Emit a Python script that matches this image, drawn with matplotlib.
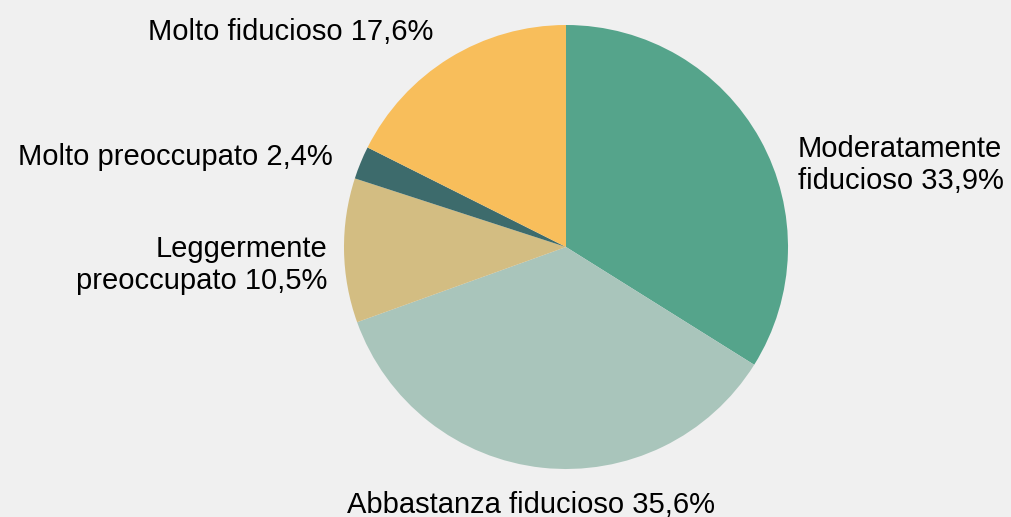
import matplotlib.pyplot as plt

labels = ['Moderatamente\nfiducioso 33,9%', 'Abbastanza fiducioso 35,6%',
          'Leggermente\npreoccupato 10,5%', 'Molto preoccupato 2,4%',
          'Molto fiducioso 17,6%']
values = [33.9, 35.6, 10.5, 2.4, 17.6]
colors = ['#55a48b', '#a9c5bb', '#d3bd82', '#3d6b6c', '#f8be5b']

# label anchor positions in figure pixels (x, y from top) and alignment
label_pos = [(798, 165, 'left'), (531, 505, 'center'), (327, 265, 'right'),
             (333, 157, 'right'), (433, 32, 'right')]

plt.rcParams['font.family'] = ['Liberation Sans', 'DejaVu Sans']
W, H = 1012, 517
fig = plt.figure(figsize=(W / 100, H / 100), dpi=100, facecolor='#f0f0f0')

cx, cy, r = 566, 247, 222
ax = fig.add_axes([(cx - r) / W, (H - cy - r) / H, 2 * r / W, 2 * r / H])
ax.set_facecolor('#f0f0f0')
ax.pie(values, colors=colors, startangle=90, counterclock=False,
       wedgeprops=dict(linewidth=0))
ax.set_xlim(-1, 1)
ax.set_ylim(-1, 1)
ax.set_aspect('equal')
ax.axis('off')

for lab, (x, y, ha) in zip(labels, label_pos):
    fig.text(x / W, 1 - y / H, lab, ha=ha, va='center', fontsize=21,
             color='#000000', multialignment=ha,
             linespacing=1.2)

fig.savefig('out.png', dpi=100, facecolor=fig.get_facecolor())
